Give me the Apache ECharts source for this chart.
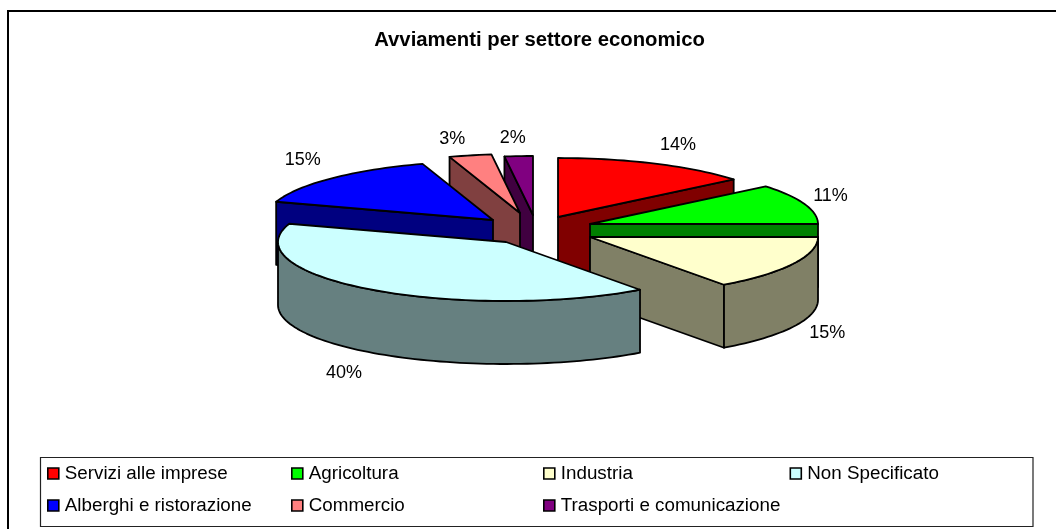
<!DOCTYPE html>
<html><head><meta charset="utf-8">
<script src="https://cdn.jsdelivr.net/npm/echarts@6/dist/echarts.min.js"></script>
<style>html,body{margin:0;padding:0;background:#fff}#c{width:1056px;height:529px}</style>
</head><body><div id="c"></div>
<script>
// ---- data ----
const categories = ['Servizi alle imprese','Agricoltura','Industria','Non Specificato','Alberghi e ristorazione','Commercio','Trasporti e comunicazione'];
const values = [14,11,15,40,15,3,2];
const chartTitle = 'Avviamenti per settore economico';
// ---- styles ----
const topColors  = ['#ff0000','#00ff00','#ffffcc','#ccffff','#0000ff','#ff8080','#800080'];
const wallColors = ['#800000','#008000','#808066','#668080','#000080','#804040','#400040'];
// ---- layout ----
const pie = {cx:535, cy:229, a:228, b:59, depth:63};
const explodeX = [23,55,55,-29,-42,-15,-2];
const explodeY = [-12,-5,8,13,-9,-16,-14];
const labelDX = [23,26,34,-28,-29,-18,-6];
const labelDY = [-19,-8,69,83,-18,-16,-18];
const drawOrder = [6,5,4,0,1,2,3];
const legendLeft = [47,291,543,789.5];
const legendTop = [475,507];
const FONT = '"Liberation Sans", Arial, sans-serif';

const total = values.reduce((s,v)=>s+v,0);
const startShare = values.map((v,i)=>values.slice(0,i).reduce((s,x)=>s+x,0)/total);
function pt(i,th,dz){
  const ox = pie.cx+explodeX[i], oy = pie.cy+explodeY[i];
  return [ox+pie.a*Math.sin(th), oy-pie.b*Math.cos(th)+(dz||0)];
}
function apex(i,dz){ return [pie.cx+explodeX[i], pie.cy+explodeY[i]+(dz||0)]; }
function arc(i,t0,t1,dz){
  const n = Math.max(2,Math.ceil((t1-t0)/0.03)), out=[];
  for(let k=0;k<=n;k++) out.push(pt(i,t0+(t1-t0)*k/n,dz));
  return out;
}
const stroke = {stroke:'#000',lineWidth:1.8,lineJoin:'round'};
function poly(points,fill){
  return {type:'polygon',shape:{points},style:Object.assign({fill},stroke)};
}
function renderSlice(i){
  return function(){
    const t0 = startShare[i]*2*Math.PI, t1 = (startShare[i]+values[i]/total)*2*Math.PI;
    const d = pie.depth, kids = [];
    // radial walls: only those that face the viewer
    if(Math.sin(t0) < -1e-6) kids.push(poly([apex(i),pt(i,t0),pt(i,t0,d),apex(i,d)],wallColors[i]));
    if(Math.sin(t1) > 1e-6) kids.push(poly([apex(i),pt(i,t1),pt(i,t1,d),apex(i,d)],wallColors[i]));
    // outer wall, front half only
    const f0 = Math.max(t0,Math.PI/2), f1 = Math.min(t1,3*Math.PI/2);
    if(f1>f0) kids.push(poly(arc(i,f0,f1).concat(arc(i,f0,f1,d).reverse()),wallColors[i]));
    // top
    kids.push(poly([apex(i)].concat(arc(i,t0,t1)),topColors[i]));
    return {type:'group',children:kids};
  };
}
function renderLabel(i){
  return function(){
    const tm = (startShare[i]+values[i]/total/2)*2*Math.PI, p = pt(i,tm);
    return {type:'text',x:p[0]+labelDX[i],y:p[1]+labelDY[i],
      style:{text:Math.round(values[i]/total*100)+'%',font:'18px '+FONT,fill:'#000',align:'center',verticalAlign:'middle'}};
  };
}
const series = drawOrder.map(i=>({
  type:'custom',name:categories[i],coordinateSystem:'none',silent:true,animation:false,
  itemStyle:{color:topColors[i]},data:[[values[i]]],renderItem:renderSlice(i),z:2
}));
categories.forEach((c,i)=>series.push({
  type:'custom',coordinateSystem:'none',silent:true,animation:false,
  data:[[values[i]]],renderItem:renderLabel(i),z:5
}));
const legends = categories.map((c,i)=>({
  data:[{name:c,itemStyle:{color:topColors[i],borderColor:'#000',borderWidth:1.6},icon:'rect'}],
  left:legendLeft[i%4],top:legendTop[Math.floor(i/4)]-11,
  orient:'horizontal',padding:0,itemWidth:11,itemHeight:11,itemGap:0,selectedMode:false,
  textStyle:{fontFamily:FONT,fontSize:18.8,color:'#000',padding:[0,0,0,1]}
}));
const chart = echarts.init(document.getElementById('c'),null,{renderer:'canvas'});
chart.setOption({
  animation:false,backgroundColor:'#fff',
  title:{text:chartTitle,left:539.5,top:30,textAlign:'center',padding:0,
    textStyle:{fontFamily:FONT,fontWeight:'bold',fontSize:20.3,color:'#000'}},
  legend:legends,
  graphic:[
    {type:'polyline',shape:{points:[[8,529],[8,11],[1056,11]]},style:{fill:'none',stroke:'#000',lineWidth:2},z:0},
    {type:'rect',shape:{x:40.5,y:457.5,width:992.5,height:69},style:{fill:'#fff',stroke:'#222',lineWidth:1.2},z:0}
  ],
  series
});
</script></body></html>
